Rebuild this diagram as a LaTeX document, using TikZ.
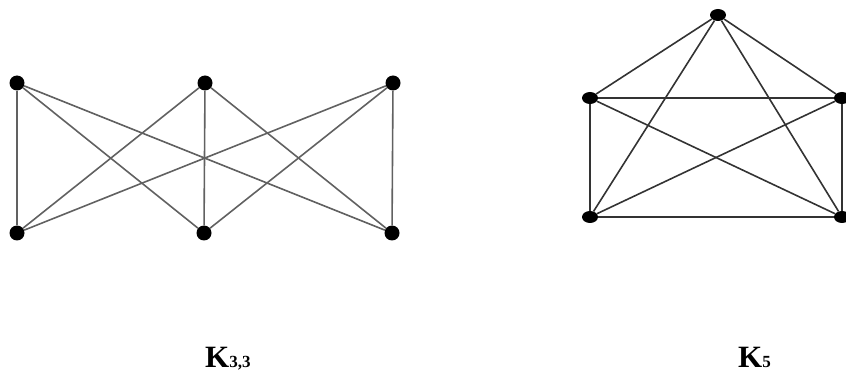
\documentclass[tikz,border=0pt]{standalone}
\usepackage{fontspec}
\setmainfont{Liberation Serif}
\usetikzlibrary{shapes.geometric}

\begin{document}
\begin{tikzpicture}[
  x=1pt, y=-1pt,
  vtx/.style={circle, fill=black, minimum size=15pt, inner sep=0pt},
  vtxe/.style={ellipse, fill=black, minimum width=16pt, minimum height=12pt,
               inner sep=0pt},
  edgea/.style={draw=black!62, line width=1.6pt},
  edgeb/.style={draw=black!80, line width=1.6pt},
  lbl/.style={font=\fontsize{31}{31}\selectfont\bfseries, inner sep=0pt,
              anchor=base west}
]
\useasboundingbox (0,0) rectangle (846,374);

% K_{3,3}
\node[vtx] (t1) at (17,83)  {};
\node[vtx] (t2) at (205,83) {};
\node[vtx] (t3) at (393,83) {};
\node[vtx] (b1) at (17,233)  {};
\node[vtx] (b2) at (204,233) {};
\node[vtx] (b3) at (392,233) {};

\draw[edgea] (t1) -- (b1);
\draw[edgea] (t1) -- (b2);
\draw[edgea] (t1) -- (b3);
\draw[edgea] (t2) -- (b1);
\draw[edgea] (t2) -- (b2);
\draw[edgea] (t2) -- (b3);
\draw[edgea] (t3) -- (b1);
\draw[edgea] (t3) -- (b2);
\draw[edgea] (t3) -- (b3);

% K_5
\node[vtxe] (top) at (718,15)  {};
\node[vtxe] (ul)  at (590,98)  {};
\node[vtxe] (ur)  at (842,98)  {};
\node[vtxe] (ll)  at (590,217) {};
\node[vtxe] (lr)  at (842,217) {};

\draw[edgeb] (top) -- (ul);
\draw[edgeb] (top) -- (ur);
\draw[edgeb] (top) -- (ll);
\draw[edgeb] (top) -- (lr);
\draw[edgeb] (ul)  -- (ur);
\draw[edgeb] (ul)  -- (ll);
\draw[edgeb] (ul)  -- (lr);
\draw[edgeb] (ur)  -- (ll);
\draw[edgeb] (ur)  -- (lr);
\draw[edgeb] (ll)  -- (lr);

% labels
\node[lbl] (k33) at (205,367) {K{\fontsize{17}{17}\selectfont 3,3}};
\node[lbl] (k5)  at (738,367) {K{\fontsize{17}{17}\selectfont 5}};

\end{tikzpicture}
\end{document}
